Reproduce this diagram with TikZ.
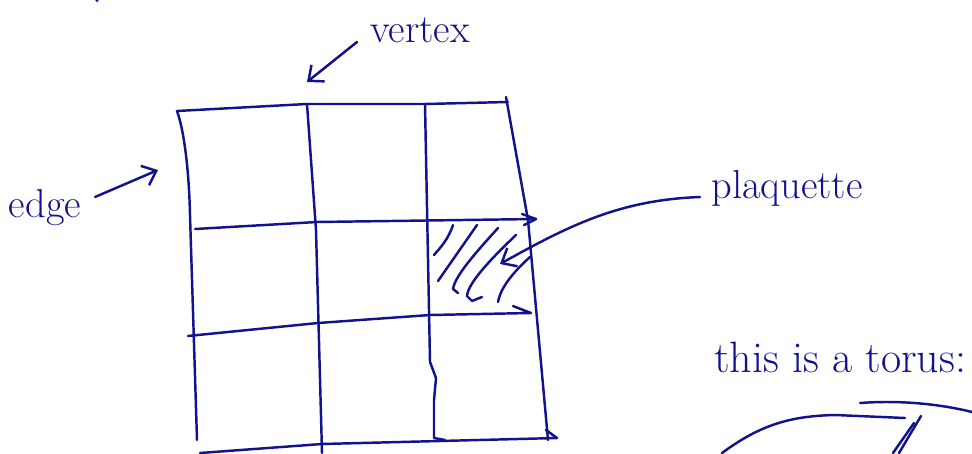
\documentclass[tikz,border=0pt]{standalone}
\usetikzlibrary{arrows.meta,positioning}
\definecolor{inkblue}{RGB}{18,18,140}
\tikzset{
  pen/.style={draw=inkblue, line width=1.4pt, line cap=round, line join=round},
  lbl/.style={text=inkblue, font=\fontsize{23}{25}\selectfont, inner sep=1pt},
  ptr/.style={pen, -{Straight Barb[length=7pt,width=12pt]}},
}
\begin{document}
\begin{tikzpicture}[x=0.02cm, y=-0.02cm]
    \useasboundingbox (0,0) rectangle (972,453);
    % stray mark
    \fill[inkblue] (97,0.5) circle (1.6);

    % Grid corners
    \coordinate (a0) at (177,111); \coordinate (a1) at (307,104);
    \coordinate (a2) at (425,104); \coordinate (a3) at (508,102);
    \coordinate (b0) at (197,440); \coordinate (b1) at (322,453);
    \coordinate (b2) at (434,438); \coordinate (b3) at (548,440);
    \coordinate (r2l) at (195,229); \coordinate (r2r) at (536,219);
    \coordinate (r3l) at (188,336); \coordinate (r3r) at (531,313);
    \coordinate (r4l) at (200,453); \coordinate (r4r) at (557,438);

    % Lattice
    \draw[pen] (a0) -- (a1) -- (a2) -- (a3);
    \draw[pen] (a0) .. controls (184,130) and (189,170) .. (190,215) -- (b0);
    \draw[pen] (a1) -- (316,230) -- (b1);
    \draw[pen] (a2) -- (430,362) -- (436,378) -- (434,400) -- (b2) -- (445,440);
    \draw[pen] (506,97) -- (528,220) -- (b3);
    \draw[pen] (r2l) -- (317,222) -- (r2r);
    \draw[pen] (522,214) -- (r2r) -- (524,225);
    \draw[pen] (r3l) -- (318,323) -- (430,315) -- (r3r) -- (513,306);
    \draw[pen] (r4l) -- (322,444) -- (r4r) -- (546,430);

    % Shaded plaquette
    \draw[pen] (453,225) .. controls (448,240) and (440,248) .. (434,255);
    \draw[pen] (477,225) -- (438,281);
    \draw[pen] (498,228) .. controls (480,248) and (455,275) .. (453,289) -- (458,293);
    \draw[pen] (516,235) .. controls (495,255) and (468,282) .. (467,296) -- (472,301) -- (482,297);
    \draw[pen] (530,257) .. controls (510,275) and (500,290) .. (498,302);

    % Labels
    \node[lbl] (vtx) at (420,30) {vertex};
    \node[lbl] (edg) at (45,208) {edge};
    \node[lbl] (plq) at (787,188) {plaquette};
    \node[lbl, anchor=west, font=\fontsize{25}{27}\selectfont] (trs) at (712,357) {this is a torus:};

    \coordinate (vtxend) at (307,82);
    \coordinate (edgend) at (158,170);
    \coordinate (plqend) at (500,264);
    \draw[ptr] (357,42) -- (vtxend);
    \draw[ptr] (95,197) -- (edgend);
    \draw[ptr] (700,197) .. controls (620,200) and (570,225) .. (plqend);

    % Torus outline
    \draw[pen] (722,453) .. controls (760,425) and (790,416) .. (835,415) -- (905,418);
    \draw[pen] (860,403) .. controls (900,400) and (940,404) .. (972,412);
    \draw[pen] (921,416) -- (899,453);
    \draw[pen] (914,423) -- (893,453);
\end{tikzpicture}
\end{document}
